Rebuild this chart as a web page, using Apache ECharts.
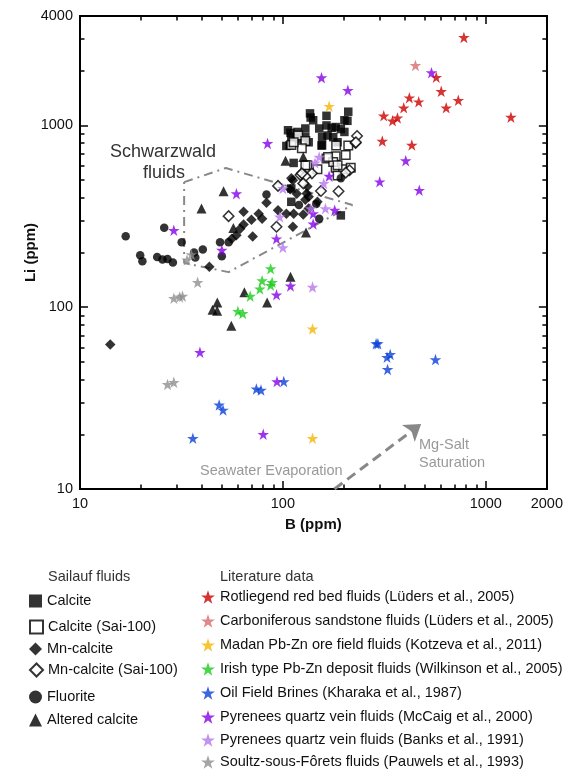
<!DOCTYPE html>
<html>
<head>
<meta charset="utf-8">
<title>Li vs B</title>
<script src="https://cdn.jsdelivr.net/npm/echarts@6.0.0/dist/echarts.min.js"></script>
<style>
  html, body { margin: 0; padding: 0; background: #fff; }
  #chart { width: 566px; height: 769px; }
</style>
</head>
<body>
<div id="chart"></div>
<script>
// 坐标轴刻度
const xLabels = [10, 100, 1000, 2000];
const xMajor = [10, 100, 1000];
const xMinor = [20, 30, 40, 50, 60, 70, 80, 90, 200, 300, 400, 500, 600, 700, 800, 900];
const yLabels = [10, 100, 1000, 4000];
const yMajor = [10, 100, 1000];
const yMinor = [20, 30, 40, 50, 60, 70, 80, 90, 200, 300, 400, 500, 600, 700, 800, 900, 2000, 3000];

// Sailauf fluids  [B, Li]
const calcite = [[210,1190],[164,1130],[136,1165],[164,1000],[182,980],[201,1068],[201,921],[151,962],[129,962],
  [106,941],[118,921],[110,862],[118,842],[129,862],[108,778],[156,778],[156,862],[177,862],[186,808],[141,1068],
  [134,808],[113,622],[110,450],[193,320],[110,380],[109,910],[137,1105],[208,1060],[104,771],[174,970],[193,955],
  [166,880],[155,775]];
const calciteSai = [[183,775],[210,775],[204,687],[182,676],[164,658],[132,604],[182,586],[198,575],[148,575],
  [186,530],[177,630],[119,880],[110,780],[129,822],[129,604],[124,748],[113,808],[186,604],[216,586],[167,670]];
const mnCalcite = [[14.1,62.4],[43.4,167],[64,335],[64,285],[61.6,270],[59,249],[56,238],[70,303],[76,327],
  [71,245],[83,376],[94.6,342],[110,512],[132,461],[131,422],[148,380],[113,327],[112,277],[134,349],[79,307],
  [108.6,445],[117,421],[104,327],[126,324],[134,405],[112,500],[129,390]];
const mnCalciteSai = [[232,875],[228,800],[213,567],[188,434],[122,533],[154,436],[54,317],[94.6,465],[93,277],
  [139,545],[129,526],[124,545],[204,550],[229,808],[126,480]];
const fluorite = [[16.8,246],[19.8,193],[20.3,179],[24,189],[25.5,183],[27,184],[28.7,176],[26,274],[31.7,228],
  [36.5,200],[37,188],[40.3,208],[49,228],[50,191],[54,228],[83,417],[120,365],[146,370],[151,307],[193,512]];
const alteredCalcite = [[51,434],[39.7,349],[57,273],[103,640],[126,670],[109,147],[64.6,121],[83.6,106],
  [47.5,106],[45,97],[47.4,95.5],[55.7,79],[130,258]];

// Literature data  [B, Li]
const rotliegend = [[780,3050],[570,1840],[603,1540],[420,1420],[467,1350],[732,1375],[394,1250],[638,1250],
  [314,1130],[367,1100],[347,1060],[1330,1110],[309,820],[432,780]];
const carboniferous = [[450,2140]];
const madan = [[169,1275],[140,76],[140,19]];
const irish = [[87,163],[79,140],[88.5,137],[87,132],[77,126],[69,115],[60,95],[63.4,92.5]];
const oilField = [[288,63],[294,63],[338,55],[326,53],[328,45.5],[565,51.5],[74,35.5],[78,35],[101,39],
  [48.5,29],[50.7,27.2],[36,19]];
const mccaig = [[540,1950],[403,640],[300,490],[470,440],[155,1830],[209,1560],[84,796],[59,421],[29,265],
  [50,206],[93,238],[109,131],[93,117],[39,56.5],[93.5,39],[80,20],[169,526],[180,342],[141,327],[141,287]];
const banks = [[100,450],[96.5,314],[100,213],[151,670],[144,622],[159,480],[137,349],[140,129],[162,349]];
const soultz = [[33.7,182],[35.4,195],[38,137],[29,112],[31,114],[32,115],[27,37.6],[29,38.6]];

// 注释：Schwarzwald 区域和蒸发箭头
const schwarzwald = [[32.6,488],[52.3,583],[220,365],[54,156],[32.6,175],[32.6,488]];
const evaporation = [[179.5,10],[480,22.8]];

const font = '"Liberation Sans", Arial, Helvetica, sans-serif';
const star = 'path://M50,0L61.8,34.5L97.6,34.5L68.5,55.9L79.4,90.5L50,69.1L20.6,90.5L31.5,55.9L2.4,34.5L38.2,34.5Z';

function scatter(name, data, symbol, size, color, open) {
  return {
    name: name,
    type: 'scatter',
    data: data,
    symbol: symbol,
    symbolSize: size,
    itemStyle: open ? { color: '#fff', borderColor: '#000', borderWidth: 1.5 } : { color: color },
    emphasis: { disabled: true },
    z: 3
  };
}

function logAxis(pos, min, max, ticks, len, labels) {
  return {
    type: 'log',
    logBase: 10,
    position: pos,
    min: min,
    max: max,
    splitLine: { show: false },
    axisLine: { show: true, onZero: false, lineStyle: { color: '#000', width: 2 } },
    axisTick: { show: true, inside: true, length: len, customValues: ticks, lineStyle: { color: '#000', width: 1.5 } },
    axisLabel: labels ? {
      customValues: labels, fontSize: 14.5, fontFamily: font, color: '#111', margin: 7,
      formatter: function (v) { return String(Math.round(v)); }
    } : { show: false }
  };
}

const xBottom = logAxis('bottom', 10, 2000, xMajor, 8, xLabels);
xBottom.name = 'B (ppm)';
xBottom.nameLocation = 'middle';
xBottom.nameGap = 28;
xBottom.nameMoveOverlap = false;
xBottom.nameTextStyle = { fontSize: 15, fontWeight: 'bold', fontFamily: font, color: '#111' };
const yLeft = logAxis('left', 10, 4000, yMajor, 8, yLabels);
yLeft.name = 'Li (ppm)';
yLeft.nameLocation = 'middle';
yLeft.nameGap = 42;
yLeft.nameMoveOverlap = false;
yLeft.nameTextStyle = { fontSize: 15, fontWeight: 'bold', fontFamily: font, color: '#111' };

const sailaufNames = ['Calcite', 'Calcite (Sai-100)', 'Mn-calcite', 'Mn-calcite (Sai-100)', 'Fluorite', 'Altered calcite'];
const litNames = [
  'Rotliegend red bed fluids (Lüders et al., 2005)',
  'Carboniferous sandstone fluids (Lüders et al., 2005)',
  'Madan Pb-Zn ore field fluids (Kotzeva et al., 2011)',
  'Irish type Pb-Zn deposit fluids (Wilkinson et al., 2005)',
  'Oil Field Brines (Kharaka et al., 1987)',
  'Pyrenees quartz vein fluids (McCaig et al., 2000)',
  'Pyrenees quartz vein fluids (Banks et al., 1991)',
  'Soultz-sous-Fôrets fluids (Pauwels et al., 1993)'
];
// 图例每行的中心位置（像素）
const sailaufRows = [601, 627, 649, 670, 697, 720];
const litRows = [597, 621, 645, 669, 693, 717, 740, 762];

function legendItem(name, left, centre, size) {
  return {
    data: [name], orient: 'vertical', left: left, top: centre - 7.5, itemWidth: size, itemHeight: size,
    selectedMode: false, padding: 0, textStyle: { fontSize: 14.5, color: '#111', fontFamily: font }
  };
}
const legends = sailaufNames.map((n, i) => legendItem(n, 29, sailaufRows[i], 13))
  .concat(litNames.map((n, i) => legendItem(n, 201, litRows[i], 14)));

const option = {
  animation: false,
  backgroundColor: '#fff',
  textStyle: { fontFamily: font },
  grid: { left: 80, right: 13, top: 16, bottom: 280, containLabel: false },
  xAxis: [
    xBottom,
    logAxis('bottom', 10, 2000, xMinor, 4.5, null),
    logAxis('top', 10, 2000, xMajor, 8, null),
    logAxis('top', 10, 2000, xMinor, 4.5, null)
  ],
  yAxis: [
    yLeft,
    logAxis('left', 10, 4000, yMinor, 4.5, null),
    logAxis('right', 10, 4000, yMajor, 8, null),
    logAxis('right', 10, 4000, yMinor, 4.5, null)
  ],
  title: [
    { text: 'Sailauf fluids', left: 48, top: 569, padding: 0,
      textStyle: { fontSize: 14.5, fontWeight: 'normal', color: '#333', fontFamily: font } },
    { text: 'Literature data', left: 220, top: 569, padding: 0,
      textStyle: { fontSize: 14.5, fontWeight: 'normal', color: '#333', fontFamily: font } }
  ],
  legend: legends,
  graphic: [
    { type: 'text', x: 163, y: 152, style: { text: 'Schwarzwald', fill: '#333', font: '18px ' + font, align: 'center', verticalAlign: 'middle' } },
    { type: 'text', x: 164, y: 173, style: { text: 'fluids', fill: '#333', font: '18px ' + font, align: 'center', verticalAlign: 'middle' } },
    { type: 'text', x: 200, y: 471, style: { text: 'Seawater Evaporation', fill: '#999', font: '14.5px ' + font, align: 'left', verticalAlign: 'middle' } },
    { type: 'text', x: 419, y: 445, style: { text: 'Mg-Salt', fill: '#999', font: '14.5px ' + font, align: 'left', verticalAlign: 'middle' } },
    { type: 'text', x: 419, y: 463, style: { text: 'Saturation', fill: '#999', font: '14.5px ' + font, align: 'left', verticalAlign: 'middle' } }
  ],
  series: [
    {
      name: 'Schwarzwald', type: 'line', data: schwarzwald, symbol: 'none', silent: true, z: 1,
      lineStyle: { color: '#888', width: 2, type: [9, 5, 2, 5] }
    },
    {
      name: 'Evaporation', type: 'lines', coordinateSystem: 'cartesian2d', silent: true, z: 1,
      symbol: ['none', 'arrow'], symbolSize: 16,
      lineStyle: { color: '#888', width: 3, type: [10, 6], opacity: 1 },
      data: [{ coords: evaporation }]
    },
    scatter('Calcite', calcite, 'rect', 8.5, '#000', false),
    scatter('Calcite (Sai-100)', calciteSai, 'rect', 8.5, '#000', true),
    scatter('Mn-calcite', mnCalcite, 'diamond', 10.5, '#000', false),
    scatter('Mn-calcite (Sai-100)', mnCalciteSai, 'diamond', 10.5, '#000', true),
    scatter('Fluorite', fluorite, 'circle', 8.5, '#000', false),
    scatter('Altered calcite', alteredCalcite, 'triangle', 10, '#000', false),
    scatter(litNames[0], rotliegend, star, 11.5, '#cc0000', false),
    scatter(litNames[1], carboniferous, star, 11.5, '#d96b6b', false),
    scatter(litNames[2], madan, star, 11.5, '#f2b705', false),
    scatter(litNames[3], irish, star, 11.5, '#1ccc1c', false),
    scatter(litNames[4], oilField, star, 11.5, '#0a40d8', false),
    scatter(litNames[5], mccaig, star, 11.5, '#8400e8', false),
    scatter(litNames[6], banks, star, 11.5, '#b577ec', false),
    scatter(litNames[7], soultz, star, 11.5, '#8e8e8e', false)
  ]
};

const chartObj = echarts.init(document.getElementById('chart'));
chartObj.setOption(option);
</script>
</body>
</html>
